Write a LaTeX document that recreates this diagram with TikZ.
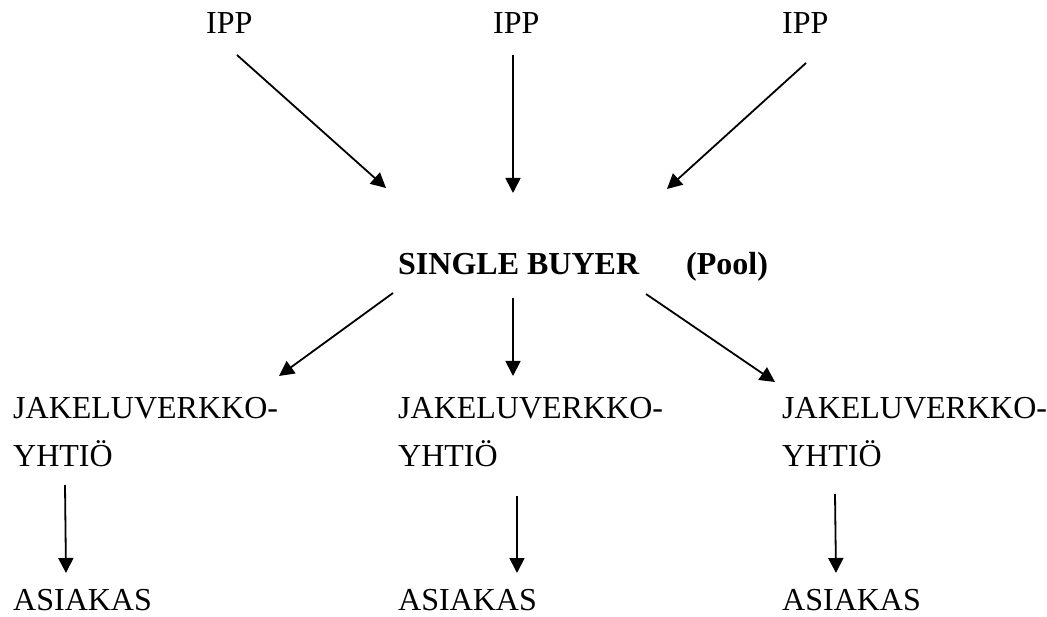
\documentclass[tikz,border=0pt]{standalone}
\usepackage{fontspec}
\setmainfont{Liberation Serif}
\usetikzlibrary{arrows.meta}
\begin{document}
\begin{tikzpicture}[x=1pt,y=-1pt,
  lbl/.style={anchor=base west,inner sep=0pt,align=left,
    font=\fontsize{32}{48}\selectfont},
  bold/.style={lbl,font=\fontsize{32}{48}\selectfont\bfseries},
  arr/.style={line width=1.8pt,-{Triangle[length=15pt,width=15pt]}}]
  \useasboundingbox (0,0) rectangle (1047,617);

  % producers
  \node[lbl] (ipp1) at (206,34) {IPP};
  \node[lbl] (ipp2) at (493,34) {IPP};
  \node[lbl] (ipp3) at (782,34) {IPP};

  % pool
  \node[bold] (sb) at (398,275) {SINGLE BUYER};
  \node[bold] (pool) at (686,275) {(Pool)};

  % distribution companies (base anchor sits on the second line)
  \node[lbl] (j1) at (13,466) {JAKELUVERKKO-\\YHTIÖ};
  \node[lbl] (j2) at (398,466) {JAKELUVERKKO-\\YHTIÖ};
  \node[lbl] (j3) at (782,466) {JAKELUVERKKO-\\YHTIÖ};

  % customers
  \node[lbl] (c1) at (13,610) {ASIAKAS};
  \node[lbl] (c2) at (398,610) {ASIAKAS};
  \node[lbl] (c3) at (782,610) {ASIAKAS};

  % connector end points
  \coordinate (ipp1o) at (237,55);  \coordinate (sbi1) at (386,188);
  \coordinate (ipp2o) at (513,55);  \coordinate (sbi2) at (513,193);
  \coordinate (ipp3o) at (806,63);  \coordinate (sbi3) at (667,189);
  \coordinate (sbo1) at (393,293);  \coordinate (j1i) at (279,376);
  \coordinate (sbo2) at (513,298);  \coordinate (j2i) at (513,376);
  \coordinate (sbo3) at (646,294);  \coordinate (j3i) at (775,382);
  \coordinate (j1o) at (65,485);    \coordinate (c1i) at (66,573);
  \coordinate (j2o) at (517,496);   \coordinate (c2i) at (517,573);
  \coordinate (j3o) at (835,494);   \coordinate (c3i) at (836,573);

  \draw[arr] (ipp1o) -- (sbi1);
  \draw[arr] (ipp2o) -- (sbi2);
  \draw[arr] (ipp3o) -- (sbi3);
  \draw[arr] (sbo1) -- (j1i);
  \draw[arr] (sbo2) -- (j2i);
  \draw[arr] (sbo3) -- (j3i);
  \draw[arr] (j1o) -- (c1i);
  \draw[arr] (j2o) -- (c2i);
  \draw[arr] (j3o) -- (c3i);
\end{tikzpicture}
\end{document}
